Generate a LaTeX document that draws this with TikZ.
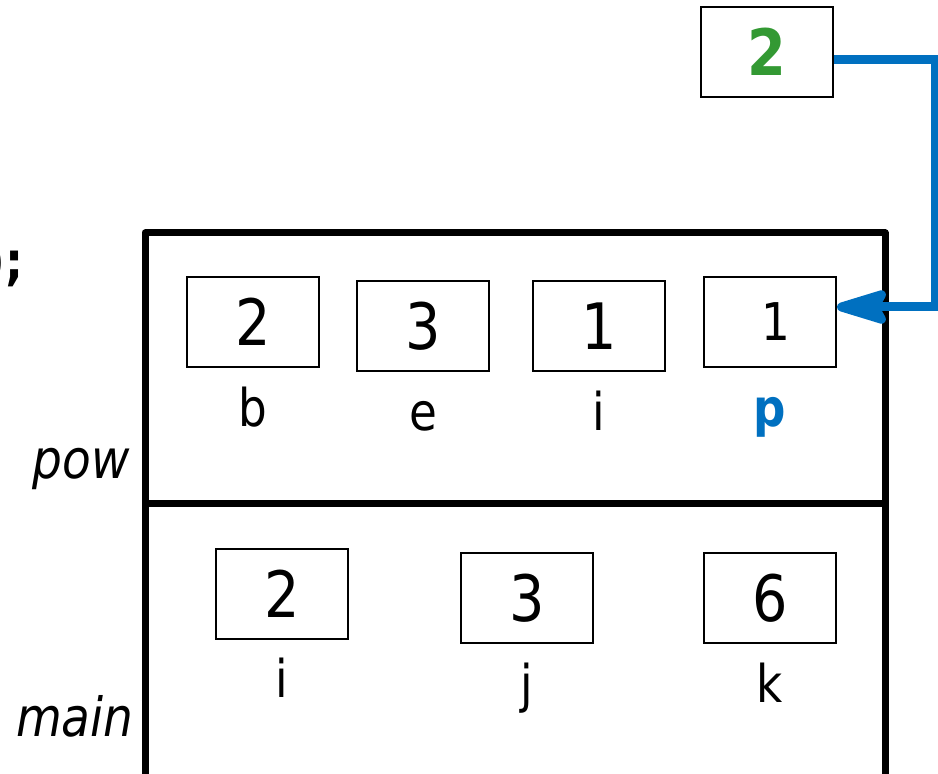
\documentclass[tikz,border=0pt]{standalone}
\usepackage{fontspec}
\setmainfont[FakeStretch=0.87]{DejaVu Sans}
\usetikzlibrary{arrows.meta}
\definecolor{ptrblue}{HTML}{0070C0}
\definecolor{valgreen}{HTML}{339933}
\tikzset{
	cell/.style={draw, line width=1pt, minimum width=66pt, minimum height=45pt, inner sep=0pt, font=\fontsize{32}{38}\selectfont},
	varname/.style={anchor=base, font=\fontsize{26}{31}\selectfont},
	framename/.style={anchor=base east, font=\fontsize{27}{32}\selectfont\itshape},
	frame/.style={line width=3.5pt, line join=round},
	ptr/.style={ptrblue, line width=4.5pt, -{Stealth[length=32pt 0 0, width=19pt 0 0, inset=5pt 0, round]}}
}
\begin{document}
\begin{tikzpicture}[x=0.5pt,y=-0.5pt]
	\useasboundingbox (0,0) rectangle (938,774);
	\draw[frame] (145,233) rectangle (885,778);
	\draw[frame] (145,504) -- (885,504);
	\node[anchor=base east, inner sep=0pt, font=\fontsize{26}{31}\selectfont\bfseries] (code) at (24,280) {);};
	\node[framename, inner sep=0pt] (powname) at (130,479) {pow};
	\node[framename, inner sep=0pt] (mainname) at (134,737) {main};
	\node[cell] (powb) at (253,322) {2};
	\node[cell] (powe) at (423,326) {3};
	\node[cell] (powi) at (599,326) {1};
	\node[cell, font=\fontsize{26}{31}\selectfont] (powp) at (770,322) {\hspace{6pt}1};
	\node[varname] (lb) at (253,427) {b};
	\node[varname] (le) at (423,431) {e};
	\node[varname] (li) at (599,431) {i};
	\node[varname, text=ptrblue, font=\fontsize{26}{31}\selectfont\bfseries] (lp) at (770,427) {p};
	\node[cell] (maini) at (282,594) {2};
	\node[cell] (mainj) at (527,598) {3};
	\node[cell] (maink) at (770,598) {6};
	\node[varname] (lmi) at (282,698) {i};
	\node[varname] (lmj) at (527,703) {j};
	\node[varname] (lmk) at (770,703) {k};
	\node[cell, text=valgreen, font=\fontsize{32}{38}\selectfont\bfseries] (ret) at (767,52) {2};
	\draw[ptr] ([yshift=-4pt]ret.east) -- ++(101,0) |- ([yshift=7.5pt]powp.east);
\end{tikzpicture}
\end{document}
